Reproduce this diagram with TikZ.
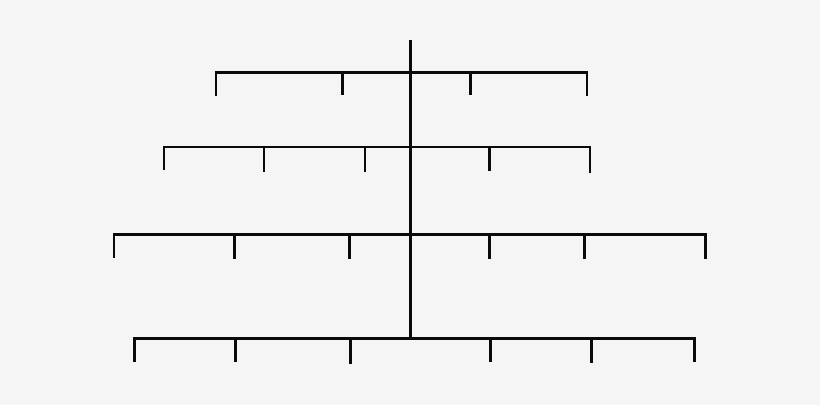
\documentclass[tikz,border=0pt]{standalone}
\definecolor{bg}{HTML}{F5F5F5}
\definecolor{ink}{HTML}{0A0A0A}
\tikzset{
  branch/.style={draw=ink, line width=2.8pt, line join=miter},
  twig/.style={draw=ink, line width=2.6pt}
}
\begin{document}
\begin{tikzpicture}[x=1pt,y=-1pt]
\fill[bg] (0,0) rectangle (820,405);
\useasboundingbox (0,0) rectangle (820,405);
% trunk
\coordinate (top) at (410.5,40);
\coordinate (bot) at (410.5,338);
\draw[branch] (top) -- (bot);
% row 1
\coordinate (a1) at (216,96); \coordinate (a1t) at (216,72.5);
\coordinate (a4) at (587,96); \coordinate (a4t) at (587,72.5);
\draw[branch] (a1) -- (a1t) -- (a4t) -- (a4);
\coordinate (a2t) at (342.5,72.5); \coordinate (a2) at (342.5,94.5);
\coordinate (a3t) at (470.5,72.5); \coordinate (a3) at (470.5,94.5);
\draw[twig] (a2t) -- (a2);
\draw[twig] (a3t) -- (a3);
% row 2
\coordinate (b1) at (164,170); \coordinate (b1t) at (164,147);
\coordinate (b5) at (590,173); \coordinate (b5t) at (590,147);
\draw[branch] (b1) -- (b1t) -- (b5t) -- (b5);
\coordinate (b2t) at (264,147); \coordinate (b2) at (264,172);
\coordinate (b3t) at (365,147); \coordinate (b3) at (365,172);
\coordinate (b4t) at (489.5,147); \coordinate (b4) at (489.5,171);
\draw[twig] (b2t) -- (b2);
\draw[twig] (b3t) -- (b3);
\draw[twig] (b4t) -- (b4);
% row 3
\coordinate (c1) at (114,257.5); \coordinate (c1t) at (114,234.5);
\coordinate (c6) at (705.5,259); \coordinate (c6t) at (705.5,234.5);
\draw[branch] (c1) -- (c1t) -- (c6t) -- (c6);
\coordinate (c2t) at (234.5,234.5); \coordinate (c2) at (234.5,258.5);
\coordinate (c3t) at (349.5,234.5); \coordinate (c3) at (349.5,259);
\coordinate (c4t) at (489.5,234.5); \coordinate (c4) at (489.5,258.5);
\coordinate (c5t) at (584.5,234.5); \coordinate (c5) at (584.5,259);
\draw[twig] (c2t) -- (c2);
\draw[twig] (c3t) -- (c3);
\draw[twig] (c4t) -- (c4);
\draw[twig] (c5t) -- (c5);
% row 4
\coordinate (d1) at (134.5,361.5); \coordinate (d1t) at (134.5,338.5);
\coordinate (d6) at (694.5,361.5); \coordinate (d6t) at (694.5,338.5);
\draw[branch] (d1) -- (d1t) -- (d6t) -- (d6);
\coordinate (d2t) at (235.5,338.5); \coordinate (d2) at (235.5,362);
\coordinate (d3t) at (350.5,338.5); \coordinate (d3) at (350.5,363.5);
\coordinate (d4t) at (490.5,338.5); \coordinate (d4) at (490.5,362);
\coordinate (d5t) at (591.5,338.5); \coordinate (d5) at (591.5,362.5);
\draw[twig] (d2t) -- (d2);
\draw[twig] (d3t) -- (d3);
\draw[twig] (d4t) -- (d4);
\draw[twig] (d5t) -- (d5);
\end{tikzpicture}
\end{document}
